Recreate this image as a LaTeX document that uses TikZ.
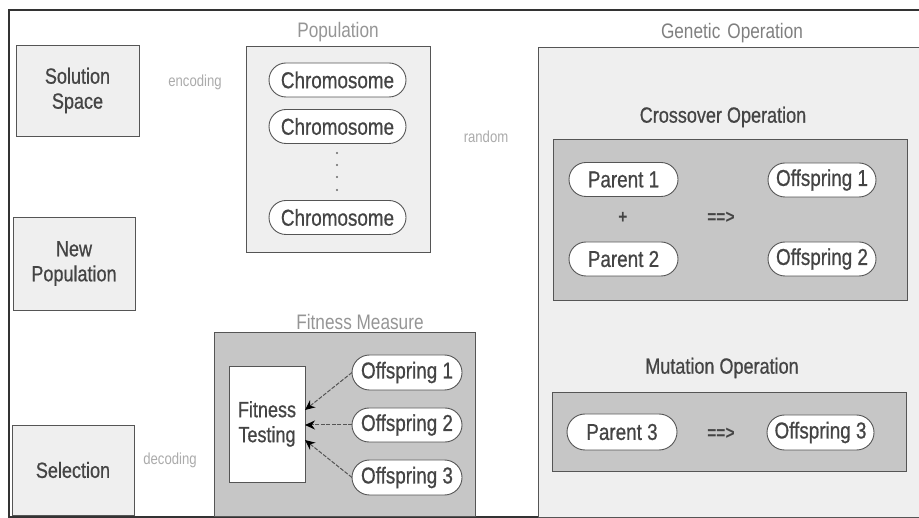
\documentclass[tikz,border=0pt]{standalone}
\usepackage{fontspec}
\setmainfont{Liberation Sans}[FakeStretch=0.82]
\newfontfamily\heavyface{Liberation Sans}[FakeStretch=0.82, FakeBold=0.7]
\usetikzlibrary{shapes.misc,arrows.meta}

\definecolor{ink}{HTML}{444444}
\definecolor{labelgray}{HTML}{959595}
\definecolor{faint}{HTML}{ABABAB}
\definecolor{boxfill}{HTML}{EFEFEF}
\definecolor{panel}{HTML}{C6C6C6}
\definecolor{boxline}{HTML}{555555}
\definecolor{frame}{HTML}{333333}

\begin{document}
\begin{tikzpicture}[x=1pt,y=-1pt,
  every node/.style={inner sep=0pt, outer sep=0pt},
  stagebox/.style={draw=boxline, fill=boxfill, line width=0.9pt, text=ink,
    align=center, font=\heavyface\fontsize{22}{25}\selectfont},
  holder/.style={draw=boxline, fill=boxfill, line width=0.9pt},
  greypanel/.style={draw=boxline, fill=panel, line width=0.9pt},
  pill/.style={rounded rectangle, draw=boxline, fill=white, line width=0.9pt,
    text=ink, font=\heavyface\fontsize{23}{26}\selectfont, minimum height=34pt},
  title/.style={text=labelgray, font=\fontsize{21}{24}\selectfont},
  subtitle/.style={text=ink, font=\heavyface\fontsize{22}{25}\selectfont},
  note/.style={text=faint, font=\fontsize{16}{19}\selectfont},
  sign/.style={text=ink, font=\bfseries\fontsize{19}{22}\selectfont},
  feed/.style={draw=boxline, line width=1pt, dash pattern=on 4pt off 1.5pt,
    -{Stealth[length=10pt,width=9pt,color=black]}}
]
\useasboundingbox (0,0) rectangle (919,518);

% outer frame (right side runs past the page edge)
\draw[frame, line width=2pt] (945,10) -- (9,10) -- (9,517) -- (945,517);

% left column of stages
\node[stagebox, minimum width=123pt, minimum height=91pt] (space) at (77.5,90.5) {Solution\\Space};
\node[stagebox, minimum width=122pt, minimum height=93pt] (newpop) at (74,263.5) {New\\Population};
\node[stagebox, minimum width=122pt, minimum height=90pt] (select) at (73,470) {Selection};

\node[note] (enc) at (195,82) {encoding};
\node[note] (rnd) at (486,137) {random};
\node[note] (dec) at (170,460) {decoding};

% population
\node[title] (poplabel) at (338,32) {Population};
\node[holder, minimum width=184pt, minimum height=206pt] (pop) at (338,149) {};
\node[pill, minimum width=137pt] (c1) at (337.5,80) {Chromosome};
\node[pill, minimum width=137pt] (c2) at (337.5,126.5) {Chromosome};
\node[pill, minimum width=137pt] (c3) at (337.5,217.5) {Chromosome};
\foreach \yy in {153,165,177,190} \fill[ink!80] (337,\yy) circle (1.2pt);

% genetic operation
\node[title, text=labelgray!85!black] (genlabel) at (732,33) {Genetic\,\,Operation};
\draw[holder] (538,47) rectangle (945,517);

\node[subtitle] (xlabel) at (723,117) {Crossover Operation};
\node[greypanel, minimum width=354pt, minimum height=161pt] (xbox) at (730,219.5) {};
\node[pill, minimum width=109pt] (p1) at (623.5,179.5) {Parent 1};
\node[pill, minimum width=108pt] (f1) at (822,180) {Offspring 1};
\node[pill, minimum width=109pt] (p2) at (623.5,259) {Parent 2};
\node[pill, minimum width=108pt] (f2) at (822,259) {Offspring 2};
\node[sign] (plus) at (623,218) {+};
\node[sign] (imp1) at (721,218) {==>};

\node[subtitle] (mlabel) at (722,368) {Mutation Operation};
\node[greypanel, minimum width=354pt, minimum height=79pt] (mbox) at (729,431.5) {};
\node[pill, minimum width=110pt, minimum height=36pt] (p3) at (622,432) {Parent 3};
\node[sign] (imp2) at (721,434) {==>};
\node[pill, minimum width=107pt, minimum height=35pt] (f3) at (820.5,432.5) {Offspring 3};

% fitness measure
\node[title] (fitlabel) at (360,322) {Fitness Measure};
\node[greypanel, minimum width=261pt, minimum height=184pt] (fitbox) at (344.5,424) {};
\node[stagebox, fill=white, minimum width=76pt, minimum height=116pt] (ft) at (267,424) {Fitness\\Testing};
\node[pill, minimum width=110pt, minimum height=35pt] (o1) at (407,372.5) {Offspring 1};
\node[pill, minimum width=110pt, minimum height=34pt] (o2) at (407,425) {Offspring 2};
\node[pill, minimum width=110pt, minimum height=35pt] (o3) at (407,477.5) {Offspring 3};

\draw[feed] (o1.west) -- ([yshift=14pt]ft.east);
\draw[feed] (o2.west) -- ([yshift=-1pt]ft.east);
\draw[feed] (o3.west) -- ([yshift=-16pt]ft.east);
\end{tikzpicture}
\end{document}
